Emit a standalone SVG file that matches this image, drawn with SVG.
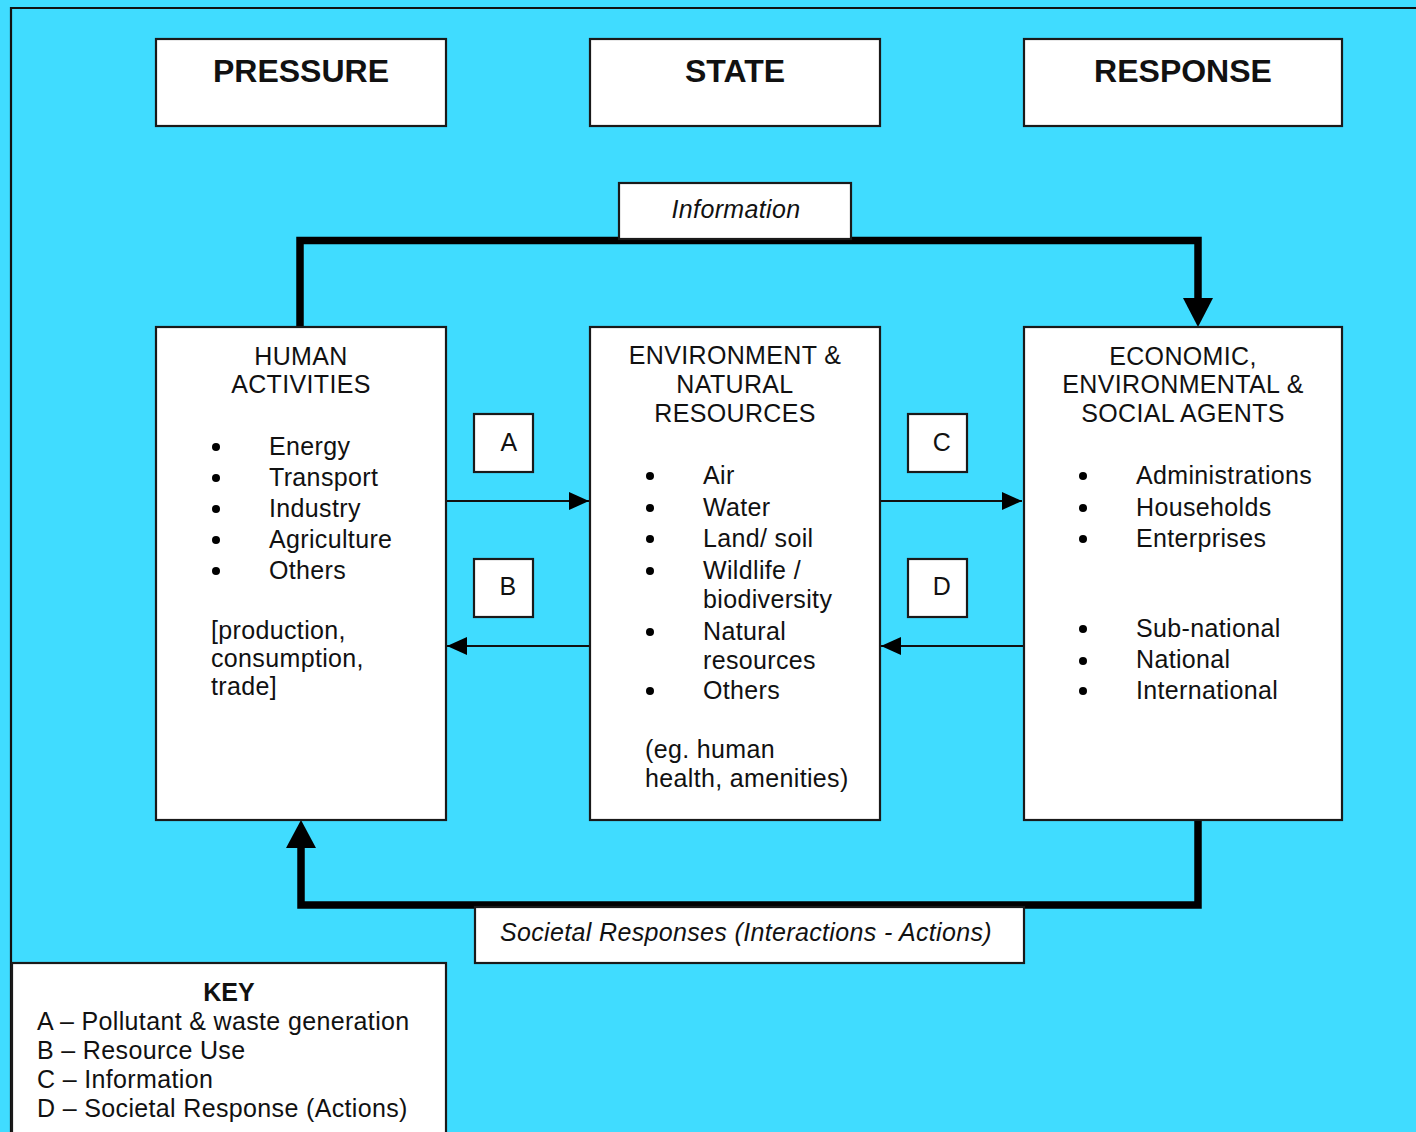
<svg xmlns="http://www.w3.org/2000/svg" width="1416" height="1132" viewBox="0 0 1416 1132">
<defs>
<style>
.bg{fill:#40DCFF}
.box{fill:#ffffff;stroke:#1a1a1a;stroke-width:2.2}
.t{font-family:"Liberation Sans",Arial,Helvetica,sans-serif;font-size:25px;letter-spacing:0.35px;fill:#111}
.h{font-family:"Liberation Sans",Arial,Helvetica,sans-serif;font-size:32px;font-weight:bold;fill:#111}
.k{font-family:"Liberation Sans",Arial,Helvetica,sans-serif;font-size:25px;font-weight:bold;fill:#111}
.i{font-family:"Liberation Sans",Arial,Helvetica,sans-serif;font-size:25px;font-style:italic;letter-spacing:0.35px;fill:#111}
.c{text-anchor:middle}
.thick{fill:none;stroke:#000;stroke-width:7.5;stroke-linejoin:miter}
.thin{fill:none;stroke:#111;stroke-width:2.2}
.dot{fill:#000}
</style>
<marker id="ah" markerUnits="userSpaceOnUse" markerWidth="22" markerHeight="20" refX="20" refY="9" orient="auto">
<path d="M0,0 L20,9 L0,18 Z" fill="#000"/>
</marker>
</defs>
<rect class="bg" x="0" y="0" width="1416" height="1132"/>
<path d="M11,1140 V8 H1430" fill="none" stroke="#111" stroke-width="2.2"/>

<g id="connectors">
<path class="thick" d="M300,327 V240.5 H1198 V300"/>
<polygon points="1183,298 1213,298 1198,327" fill="#000"/>
<path class="thick" d="M1198,820 V905 H301 V846"/>
<polygon points="286,848 316,848 301,820" fill="#000"/>
<line class="thin" x1="446" y1="501" x2="589" y2="501" marker-end="url(#ah)"/>
<line class="thin" x1="590" y1="646" x2="447" y2="646" marker-end="url(#ah)"/>
<line class="thin" x1="880" y1="501" x2="1022" y2="501" marker-end="url(#ah)"/>
<line class="thin" x1="1023" y1="646" x2="881" y2="646" marker-end="url(#ah)"/>
</g>

<g id="pressure">
<rect class="box" x="156" y="39" width="290" height="87"/>
<text class="h c" x="301" y="82">PRESSURE</text>
</g>
<g id="state">
<rect class="box" x="590" y="39" width="290" height="87"/>
<text class="h c" x="735" y="82">STATE</text>
</g>
<g id="response">
<rect class="box" x="1024" y="39" width="318" height="87"/>
<text class="h c" x="1183" y="82">RESPONSE</text>
</g>

<g id="information">
<rect class="box" x="619" y="183" width="232" height="56"/>
<text class="i c" x="736" y="218">Information</text>
</g>

<g id="human-activities">
<rect class="box" x="156" y="327" width="290" height="493"/>
<text class="t c" x="301" y="365">HUMAN</text>
<text class="t c" x="301" y="393">ACTIVITIES</text>
<circle class="dot" cx="216" cy="447" r="4"/>
<circle class="dot" cx="216" cy="478" r="4"/>
<circle class="dot" cx="216" cy="509" r="4"/>
<circle class="dot" cx="216" cy="540" r="4"/>
<circle class="dot" cx="216" cy="571" r="4"/>
<text class="t" x="269" y="455">Energy</text>
<text class="t" x="269" y="486">Transport</text>
<text class="t" x="269" y="517">Industry</text>
<text class="t" x="269" y="548">Agriculture</text>
<text class="t" x="269" y="579">Others</text>
<text class="t" x="211" y="639">[production,</text>
<text class="t" x="211" y="667">consumption,</text>
<text class="t" x="211" y="695">trade]</text>
</g>

<g id="environment">
<rect class="box" x="590" y="327" width="290" height="493"/>
<text class="t c" x="735" y="364">ENVIRONMENT &amp;</text>
<text class="t c" x="735" y="393">NATURAL</text>
<text class="t c" x="735" y="422">RESOURCES</text>
<circle class="dot" cx="650" cy="476" r="4"/>
<circle class="dot" cx="650" cy="508" r="4"/>
<circle class="dot" cx="650" cy="539" r="4"/>
<circle class="dot" cx="650" cy="571" r="4"/>
<circle class="dot" cx="650" cy="632" r="4"/>
<circle class="dot" cx="650" cy="691" r="4"/>
<text class="t" x="703" y="484">Air</text>
<text class="t" x="703" y="516">Water</text>
<text class="t" x="703" y="547">Land/ soil</text>
<text class="t" x="703" y="579">Wildlife /</text>
<text class="t" x="703" y="608">biodiversity</text>
<text class="t" x="703" y="640">Natural</text>
<text class="t" x="703" y="669">resources</text>
<text class="t" x="703" y="699">Others</text>
<text class="t" x="645" y="758">(eg. human</text>
<text class="t" x="645" y="787">health, amenities)</text>
</g>

<g id="agents">
<rect class="box" x="1024" y="327" width="318" height="493"/>
<text class="t c" x="1183" y="365">ECONOMIC,</text>
<text class="t c" x="1183" y="393">ENVIRONMENTAL &amp;</text>
<text class="t c" x="1183" y="422">SOCIAL AGENTS</text>
<circle class="dot" cx="1083" cy="476" r="4"/>
<circle class="dot" cx="1083" cy="508" r="4"/>
<circle class="dot" cx="1083" cy="539" r="4"/>
<circle class="dot" cx="1083" cy="629" r="4"/>
<circle class="dot" cx="1083" cy="661" r="4"/>
<circle class="dot" cx="1083" cy="691" r="4"/>
<text class="t" x="1136" y="484">Administrations</text>
<text class="t" x="1136" y="516">Households</text>
<text class="t" x="1136" y="547">Enterprises</text>
<text class="t" x="1136" y="637">Sub-national</text>
<text class="t" x="1136" y="668">National</text>
<text class="t" x="1136" y="699">International</text>
</g>

<g id="label-a">
<rect class="box" x="474" y="414" width="59" height="58"/>
<text class="t c" x="509" y="451">A</text>
</g>
<g id="label-b">
<rect class="box" x="474" y="559" width="59" height="58"/>
<text class="t c" x="508" y="595">B</text>
</g>
<g id="label-c">
<rect class="box" x="908" y="414" width="59" height="58"/>
<text class="t c" x="942" y="451">C</text>
</g>
<g id="label-d">
<rect class="box" x="908" y="559" width="59" height="58"/>
<text class="t c" x="942" y="595">D</text>
</g>

<g id="societal">
<rect class="box" x="475" y="907" width="549" height="56"/>
<text class="i c" x="746" y="941">Societal Responses (Interactions - Actions)</text>
</g>

<g id="key">
<rect class="box" x="12" y="963" width="434" height="190"/>
<text class="k c" x="229" y="1001">KEY</text>
<text class="t" x="37" y="1030">A – Pollutant &amp; waste generation</text>
<text class="t" x="37" y="1059">B – Resource Use</text>
<text class="t" x="37" y="1088">C – Information</text>
<text class="t" x="37" y="1117">D – Societal Response (Actions)</text>
</g>
</svg>
